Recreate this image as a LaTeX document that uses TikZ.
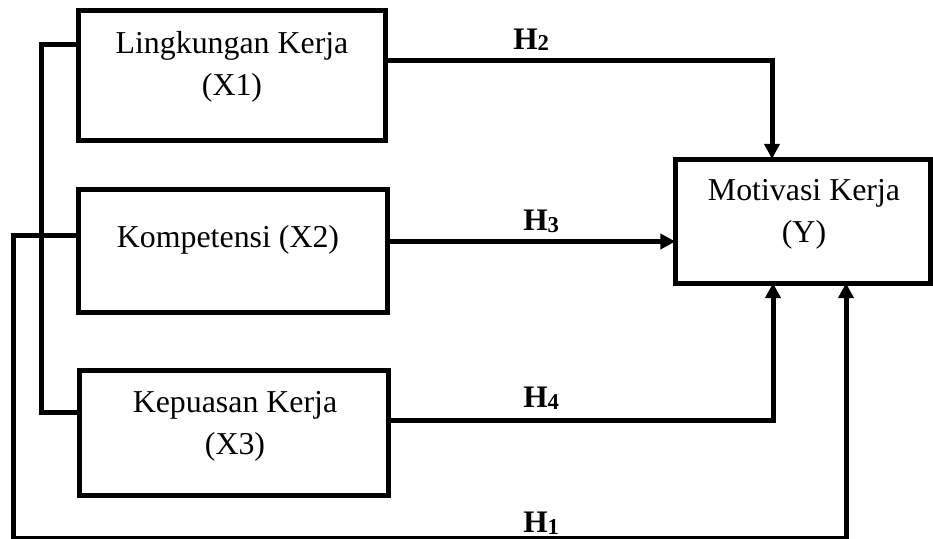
\documentclass[tikz,border=0pt]{standalone}
\usepackage{fontspec}
\setmainfont{Liberation Serif}
\usetikzlibrary{arrows.meta}
\newcommand\hsub[1]{\raisebox{-1.5pt}{\fontsize{17}{17}\selectfont #1}}
\begin{document}
\begin{tikzpicture}[x=0.75pt,y=-0.75pt,
  boxstyle/.style={draw, rectangle, line width=3.75pt, inner sep=0pt},
  txt/.style={font=\fontsize{23.9}{31.5}\selectfont, align=center, inner sep=0pt},
  hlabel/.style={font=\fontsize{23.5}{31.5}\selectfont\bfseries, anchor=base west, inner sep=0pt},
  conn/.style={line width=3.75pt, line join=miter},
  tipped/.style={conn, -{Triangle[length=11.25pt,width=11.25pt]}, shorten >=-1.8pt}]
\fill[white] (0,0) rectangle (933,539);
\useasboundingbox (0,0) rectangle (933,539);

% boxes
\node[boxstyle, minimum width=230.6pt, minimum height=97.5pt] (x1) at (232.25,75) {};
\node[txt] (x1t) at (232,67) {Lingkungan Kerja\\(X1)};
\node[boxstyle, minimum width=232.1pt, minimum height=92.6pt] (x2) at (233.25,251.25) {};
\node[txt] (x2t) at (228,240) {Kompetensi (X2)};
\node[boxstyle, minimum width=231.75pt, minimum height=93.75pt] (x3) at (233.5,432.5) {};
\node[txt] (x3t) at (235,426) {Kepuasan Kerja\\(X3)};
\node[boxstyle, minimum width=190.9pt, minimum height=93pt] (y) at (802.75,221) {};
\node[txt] (yt) at (804,214.5) {Motivasi Kerja\\(Y)};

% labels
\node[hlabel] (h2) at (513,49) {H\hsub{2}};
\node[hlabel] (h3) at (523,230) {H\hsub{3}};
\node[hlabel] (h4) at (523,407) {H\hsub{4}};
\node[hlabel] (h1) at (523,532) {H\hsub{1}};

% helper coordinates
\coordinate (c2) at (772,60);
\coordinate (c3) at (675,241.5);
\coordinate (c4) at (773,420.5);
\coordinate (c1a) at (13.5,235);
\coordinate (c1b) at (13.5,538.5);
\coordinate (c1c) at (846,538.5);
\coordinate (ba) at (41.5,44.5);
\coordinate (bb) at (41.5,412);

% connectors
\draw[tipped] (x1.east |- c2) -- (c2) -- (c2 |- y.north);
\draw[tipped] (x2.east |- c3) -- (y.west |- c3);
\draw[tipped] (x3.east |- c4) -- (c4) -- (c4 |- y.south);
\draw[tipped] (x2.west |- c1a) -- (c1a) -- (c1b) -- (c1c) -- (c1c |- y.south);
\draw[conn] (x1.west |- ba) -- (ba) -- (bb) -- (x3.west |- bb);
\end{tikzpicture}
\end{document}
